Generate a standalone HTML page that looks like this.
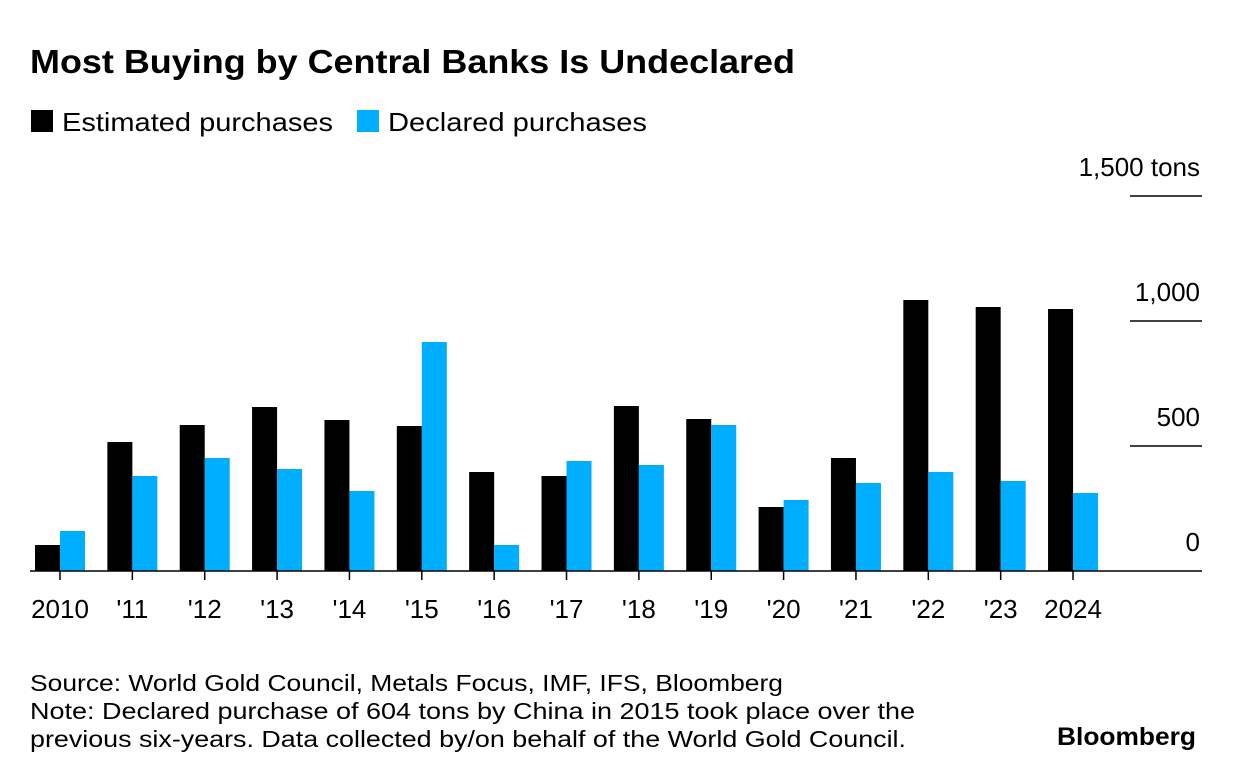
<!DOCTYPE html>
<html><head><meta charset="utf-8"><style>
body{margin:0;background:#fff;font-family:"Liberation Sans",sans-serif;}
#wrap{position:relative;width:1236px;height:780px;overflow:hidden;}
</style></head><body>
<div id="wrap">
<svg id="chart" width="1236" height="780">
<text x="30" y="73" font-size="33" font-weight="bold" fill="#000" textLength="765" lengthAdjust="spacingAndGlyphs">Most Buying by Central Banks Is Undeclared</text>
<g>
<rect x="31" y="110" width="22" height="22" fill="#000"/>
<text x="62" y="131" font-size="26" textLength="271" lengthAdjust="spacingAndGlyphs">Estimated purchases</text>
<rect x="357" y="110" width="22" height="22" fill="#00aeff"/>
<text x="388" y="131" font-size="26" textLength="259" lengthAdjust="spacingAndGlyphs">Declared purchases</text>
</g>
<g id="grid"></g><g id="bars"></g><g id="xaxis"></g>
<g font-size="23">
<text x="30" y="691" textLength="753" lengthAdjust="spacingAndGlyphs">Source: World Gold Council, Metals Focus, IMF, IFS, Bloomberg</text>
<text x="30" y="719" textLength="885" lengthAdjust="spacingAndGlyphs">Note: Declared purchase of 604 tons by China in 2015 took place over the</text>
<text x="30" y="747" textLength="876" lengthAdjust="spacingAndGlyphs">previous six-years. Data collected by/on behalf of the World Gold Council.</text>
<text x="1057" y="745" font-size="25" font-weight="bold" textLength="139" lengthAdjust="spacingAndGlyphs">Bloomberg</text>
</g>
</svg>
</div>
<script>
const categories=["2010","'11","'12","'13","'14","'15","'16","'17","'18","'19","'20","'21","'22","'23","2024"];
const estimated=[104,516,584,656,604,580,396,380,660,608,256,452,1084,1056,1048];
const declared=[160,380,452,408,320,916,104,440,424,584,284,352,396,360,312];
const yTicks=[0,500,1000,1500];
const yTickLabels=["0","500","1,000","1,500 tons"];
const NS="http://www.w3.org/2000/svg";
function y(v){return 571-v*0.25;}
function x(i){return 60+i*72.36;}
function mk(t,a,p){const e=document.createElementNS(NS,t);for(const k in a)e.setAttribute(k,a[k]);p.appendChild(e);return e;}
const grid=document.getElementById('grid'),bars=document.getElementById('bars'),xa=document.getElementById('xaxis');
yTicks.forEach((v,i)=>{
 if(v>0){const l=mk('line',{x1:1130,x2:1202,y1:y(v),y2:y(v),stroke:'#000','stroke-width':1.5},grid);
 
 }
 const t=mk('text',{x:1200,y:y(v)-20,'text-anchor':'end','font-size':26},grid);
 t.textContent=yTickLabels[i];
 
 
});
categories.forEach((c,i)=>{
 const b=mk('rect',{x:x(i)-25,y:y(estimated[i]),width:25,height:571-y(estimated[i]),fill:'#000'},bars);
 
 
 const d=mk('rect',{x:x(i),y:y(declared[i]),width:25,height:571-y(declared[i]),fill:'#00aeff'},bars);
 
 
 const tk=mk('line',{x1:x(i),x2:x(i),y1:571,y2:580,stroke:'#000','stroke-width':1.5},xa);
 
 
 const t=mk('text',{x:x(i),y:618,'text-anchor':'middle','font-size':26},xa);
 t.textContent=c;
 
 
});
const base=mk('line',{x1:30,x2:1202,y1:571,y2:571,stroke:'#000','stroke-width':1.5},xa);


</script>
</body></html>
